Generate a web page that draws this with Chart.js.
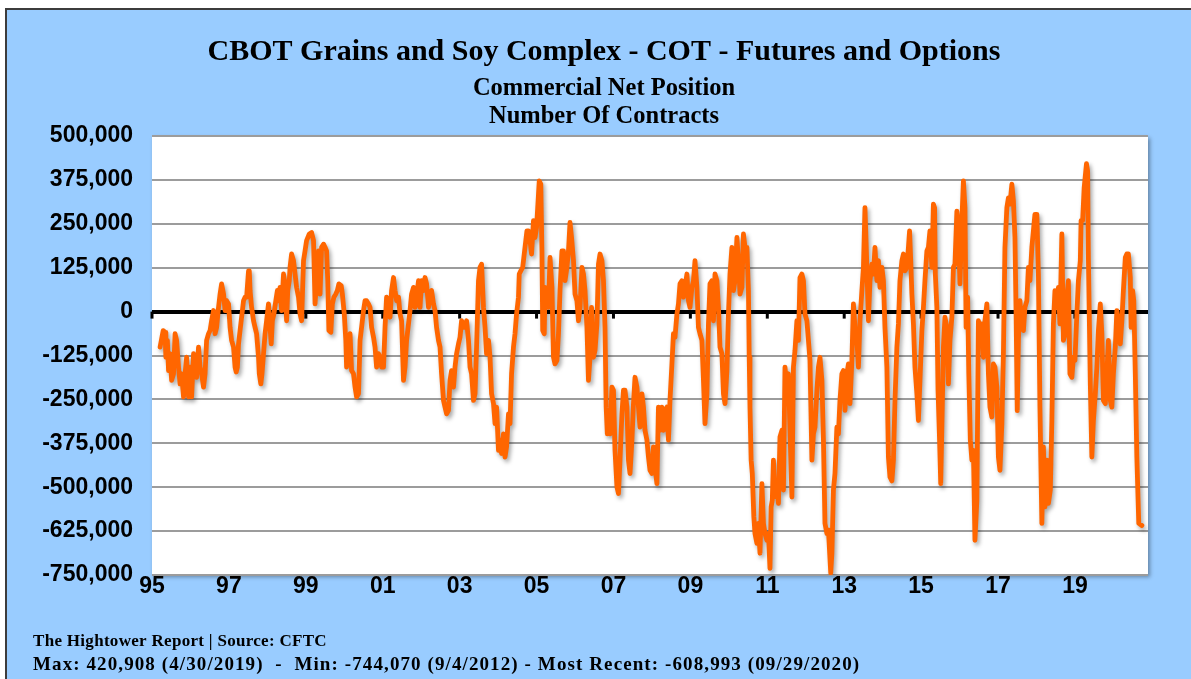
<!DOCTYPE html>
<html>
<head>
<meta charset="utf-8">
<title>CBOT Grains and Soy Complex - COT</title>
<script src="https://cdn.jsdelivr.net/npm/chart.js@4.4.1/dist/chart.umd.min.js"></script>
<style>
  html, body { margin: 0; padding: 0; background: #fff; overflow: hidden; }
  #frame {
    position: absolute; left: 5px; top: 8px;
    width: 1184px; height: 669px;
    background: #99ccff;
    border-top: 2px solid #3c3c3c;
    border-left: 2px solid #3c3c3c;
  }
  canvas { display: block; }
</style>
</head>
<body>
<div id="frame"><canvas id="cotChart" width="1184" height="669"></canvas></div>
<script>
// Commercial net position, thousands of contracts
const yrs1995 = [
  1995.21,1995.29,1995.34,1995.36,1995.40,1995.43,1995.47,1995.51,1995.56,1995.60,
  1995.64,1995.69,1995.73,1995.77,1995.82,1995.86,1995.90,1995.95,1995.99,1996.03,
  1996.08,1996.12,1996.16,1996.21,1996.25,1996.29,1996.34,1996.38,1996.42,1996.47,
  1996.51,1996.55,1996.60,1996.64,1996.68,1996.73,1996.77,1996.81,1996.86,1996.90,
  1996.94,1996.99,1997.03,1997.07,1997.12,1997.16,1997.19,1997.22,1997.25,1997.29,
  1997.33,1997.38,1997.42,1997.46,1997.51,1997.53,1997.55,1997.59,1997.64,1997.68,
  1997.72,1997.77,1997.79,1997.83,1997.86,1997.90,1997.94,1997.98,1998.03,1998.07,
  1998.10,1998.13,1998.17,1998.22,1998.26,1998.29,1998.33,1998.37,1998.42,1998.46,
  1998.50,1998.53,1998.57,1998.59,1998.63,1998.68,1998.72,1998.76,1998.81,1998.85,
  1998.89,1998.94,1998.98,1999.02,1999.09,1999.15,1999.20,1999.24
];
const net1995 = [
  -101,-54,-59,-130,-82,-168,-120,-196,-177,-63,
  -82,-158,-206,-177,-243,-177,-130,-243,-158,-243,
  -120,-177,-187,-101,-158,-177,-215,-177,-82,-63,
  -54,-26,3,-63,-45,12,50,79,50,3,
  31,22,-45,-82,-101,-158,-172,-158,-92,-54,
  -16,31,41,41,116,116,60,12,-26,-45,
  -63,-130,-177,-206,-177,-120,-63,-26,22,-45,
  -92,-26,-7,31,60,31,69,3,107,79,
  -26,60,88,126,164,145,107,69,41,-7,
  -26,145,173,202,221,225,202,22
];

const yrs1999 = [
  1999.28,1999.33,1999.37,1999.41,1999.46,1999.50,1999.54,1999.57,1999.60,1999.65,
  1999.69,1999.73,1999.78,1999.82,1999.86,1999.92,1999.95,2000.00,2000.04,2000.06,
  2000.11,2000.15,2000.19,2000.24,2000.28,2000.32,2000.37,2000.41,2000.45,2000.50,
  2000.54,2000.58,2000.63,2000.67,2000.71,2000.76,2000.80,2000.84,2000.89,2000.93,
  2000.97,2001.02,2001.06,2001.10,2001.15,2001.19,2001.23,2001.28,2001.32,2001.36,
  2001.41,2001.45,2001.49,2001.54,2001.58,2001.62,2001.67,2001.71,2001.75,2001.80,
  2001.84,2001.88,2001.93,2001.97,2002.01,2002.06,2002.10,2002.14,2002.19,2002.23,
  2002.27,2002.32,2002.36,2002.40,2002.45,2002.49,2002.53,2002.58,2002.62,2002.66,
  2002.71,2002.75,2002.79,2002.84,2002.88,2002.92,2002.97,2003.01,2003.05,2003.10,
  2003.14,2003.18,2003.23,2003.27,2003.31,2003.36,2003.40,2003.44,2003.49,2003.53
];
const net1999 = [
  88,173,50,183,192,183,173,88,-54,-59,
  22,41,50,60,79,74,50,-7,-82,-158,
  -101,-63,-168,-177,-215,-243,-234,-82,-45,3,
  31,31,22,12,-45,-73,-101,-158,-120,-130,
  -158,-158,-45,41,31,-16,60,97,60,31,
  41,-7,-26,-196,-158,-82,-35,3,50,69,
  12,41,88,12,88,60,97,79,12,50,
  60,22,3,-45,-82,-101,-177,-253,-272,-291,
  -281,-196,-168,-215,-158,-120,-92,-73,-26,-45,
  -45,-26,-82,-158,-177,-253,-234,-101,88,126
];

const yrs2003 = [
  2003.57,2003.62,2003.66,2003.70,2003.75,2003.79,2003.83,2003.88,2003.92,2003.96,
  2004.01,2004.05,2004.09,2004.14,2004.18,2004.22,2004.27,2004.31,2004.35,2004.40,
  2004.44,2004.48,2004.53,2004.55,2004.59,2004.64,2004.70,2004.75,2004.79,2004.83,
  2004.87,2004.92,2004.96,2005.00,2005.05,2005.07,2005.11,2005.14,2005.16,2005.20,
  2005.22,2005.27,2005.31,2005.35,2005.40,2005.44,2005.48,2005.53,2005.57,2005.61,
  2005.66,2005.70,2005.74,2005.79,2005.83,2005.87,2005.91,2005.96,2006.00,2006.05,
  2006.09,2006.13,2006.18,2006.22,2006.26,2006.31,2006.35,2006.39,2006.43,2006.48,
  2006.52,2006.57,2006.61,2006.65,2006.70,2006.74,2006.78,2006.81,2006.84,2006.88,
  2006.91,2006.96,2007.00,2007.04,2007.09,2007.13,2007.17,2007.22,2007.26,2007.30,
  2007.35,2007.39,2007.43,2007.48,2007.52,2007.56,2007.61,2007.65,2007.69,2007.74,
  2007.78,2007.82,2007.87,2007.91,2007.95
];
const net2003 = [
  135,12,-45,-120,-82,-130,-234,-262,-319,-272,
  -395,-366,-404,-348,-414,-385,-291,-319,-177,-101,
  -63,-7,41,107,116,126,183,230,230,202,
  164,259,211,240,334,372,363,173,-54,-63,
  69,41,12,154,69,-130,-149,-139,-63,60,
  173,173,88,126,173,254,211,145,50,31,
  -26,12,126,107,60,-45,-196,-130,12,-130,
  -111,-35,135,164,145,88,-45,-272,-348,-300,
  -348,-215,-224,-395,-499,-518,-423,-291,-224,-224,
  -272,-423,-461,-366,-262,-187,-215,-272,-329,-234,
  -272,-338,-366,-414,-452
];

const yrs2008 = [
  2008.00,2008.04,2008.08,2008.13,2008.17,2008.21,2008.26,2008.30,2008.34,2008.39,
  2008.43,2008.47,2008.52,2008.56,2008.60,2008.65,2008.69,2008.73,2008.78,2008.82,
  2008.86,2008.91,2008.95,2008.99,2009.04,2009.08,2009.12,2009.17,2009.21,2009.25,
  2009.30,2009.34,2009.38,2009.43,2009.47,2009.51,2009.56,2009.60,2009.64,2009.69,
  2009.73,2009.77,2009.82,2009.86,2009.90,2009.95,2009.99,2010.03,2010.08,2010.12,
  2010.16,2010.21,2010.25,2010.29,2010.34,2010.38,2010.42,2010.47,2010.51,2010.53,
  2010.55,2010.58,2010.61,2010.65,2010.68,2010.73,2010.77,2010.81,2010.86,2010.90,
  2010.94,2010.99,2011.03,2011.07,2011.10,2011.13,2011.16,2011.20,2011.25,2011.29,
  2011.33,2011.38,2011.42,2011.46,2011.51,2011.55,2011.59,2011.64,2011.68,2011.72,
  2011.77,2011.81,2011.85,2011.90,2011.94,2011.98,2012.03,2012.07,2012.11,2012.16,
  2012.20,2012.24
];
const net2008 = [
  -461,-385,-442,-490,-272,-338,-272,-338,-281,-272,
  -366,-253,-149,-63,-73,-7,22,79,88,41,
  69,107,31,12,69,88,145,69,-45,-63,
  -82,-196,-319,-234,-35,79,88,-26,107,88,
  12,-101,-120,-234,-262,-168,-7,107,183,60,
  88,211,145,50,69,221,183,183,60,-130,
  -272,-423,-461,-584,-632,-660,-603,-688,-490,-603,
  -632,-651,-632,-731,-556,-537,-423,-527,-499,-546,
  -357,-338,-508,-158,-215,-177,-338,-528,-158,-111,
  -26,-82,97,107,88,-7,-26,-82,-139,-423,
  -348,-329
];

const yrs2012 = [
  2012.29,2012.33,2012.37,2012.42,2012.46,2012.50,2012.55,2012.59,2012.65,2012.68,
  2012.72,2012.76,2012.81,2012.85,2012.89,2012.94,2012.98,2013.02,2013.07,2013.11,
  2013.15,2013.20,2013.24,2013.28,2013.33,2013.37,2013.41,2013.46,2013.50,2013.54,
  2013.59,2013.63,2013.67,2013.72,2013.76,2013.80,2013.85,2013.89,2013.93,2013.98,
  2014.02,2014.06,2014.11,2014.15,2014.19,2014.24,2014.28,2014.32,2014.37,2014.41,
  2014.45,2014.50,2014.54,2014.58,2014.63,2014.67,2014.70,2014.73,2014.76,2014.80,
  2014.84,2014.89,2014.93,2014.97,2015.02,2015.06,2015.10,2015.15,2015.19,2015.23,
  2015.28,2015.32,2015.35,2015.37,2015.41,2015.44,2015.48,2015.51,2015.55,2015.58,
  2015.62,2015.67,2015.71,2015.75,2015.80,2015.84,2015.88,2015.93,2015.97,2016.01,
  2016.06,2016.10,2016.14,2016.17,2016.21,2016.24,2016.28,2016.32,2016.36,2016.40,
  2016.45,2016.49,2016.53
];
const net2012 = [
  -224,-158,-130,-196,-366,-603,-632,-622,-744,-688,
  -508,-461,-329,-348,-253,-177,-168,-281,-177,-149,
  -262,-139,22,-45,-82,-158,-26,60,126,296,
  126,-26,88,135,107,183,88,145,69,126,
  88,-45,-158,-414,-471,-482,-423,-253,-101,-35,
  88,145,164,116,126,183,230,145,50,-35,
  -158,-234,-310,-196,-54,12,88,173,183,230,
  126,306,296,107,12,-224,-366,-490,-272,-101,
  -16,-45,-206,-82,-16,126,135,286,240,79,
  259,372,296,-45,41,-177,-366,-423,-395,-651,
  -537,-26,-45
];

const yrs2016 = [
  2016.58,2016.62,2016.66,2016.71,2016.75,2016.79,2016.84,2016.88,2016.92,2016.97,
  2017.01,2017.05,2017.10,2017.14,2017.18,2017.23,2017.27,2017.31,2017.36,2017.40,
  2017.44,2017.47,2017.50,2017.53,2017.57,2017.62,2017.66,2017.70,2017.75,2017.79,
  2017.83,2017.88,2017.92,2017.96,2018.01,2018.05,2018.09,2018.14,2018.18,2018.22,
  2018.27,2018.31,2018.36,2018.40,2018.44,2018.48,2018.53,2018.57,2018.61,2018.66,
  2018.70,2018.75,2018.79,2018.83,2018.87,2018.92,2018.96,2019.00,2019.05,2019.09,
  2019.14,2019.16,2019.20,2019.24,2019.30,2019.33,2019.35,2019.40,2019.44,2019.48,
  2019.53,2019.57,2019.61,2019.66,2019.70,2019.74,2019.79,2019.83,2019.87,2019.92,
  2019.96,2020.00,2020.05,2020.09,2020.13,2020.18,2020.22,2020.26,2020.31,2020.35,
  2020.39,2020.44,2020.46,2020.50,2020.53,2020.57,2020.61,2020.66,2020.74
];
const net2016 = [
  -35,-130,-26,22,-177,-272,-300,-149,-158,-215,
  -414,-452,-319,-120,183,296,324,306,363,315,
  211,-7,-282,-82,31,-45,-54,12,31,126,
  88,183,230,277,277,107,-272,-603,-385,-556,
  -423,-546,-508,-310,-35,60,12,69,-35,221,
  -82,-63,41,88,-177,-187,-130,-139,-7,88,
  145,259,259,353,421,400,154,-206,-414,-310,
  -234,-158,-54,22,-63,-253,-262,-177,-82,-253,
  -272,-177,-101,3,-35,-92,-26,60,154,164,
  164,97,-45,60,31,-177,-414,-603,-609
];

const tickYears = [1995, 1997, 1999, 2001, 2003, 2005, 2007, 2009, 2011, 2013, 2015, 2017, 2019];
const tickLabels = ['95', '97', '99', '01', '03', '05', '07', '09', '11', '13', '15', '17', '19'];

const titleText = 'CBOT Grains and Soy Complex - COT - Futures and Options';
const subtitleLines = ['Commercial Net Position', 'Number Of Contracts'];
const footerLines = [
  'The Hightower Report | Source: CFTC',
  'Max: 420,908 (4/30/2019)  -  Min: -744,070 (9/4/2012) - Most Recent: -608,993 (09/29/2020)'
];

const weekYears = [].concat(yrs1995, yrs1999, yrs2003, yrs2008, yrs2012, yrs2016);
const netK = [].concat(net1995, net1999, net2003, net2008, net2012, net2016);
const points = weekYears.map((t, i) => ({ x: t, y: netK[i] }));

const tickFont = { family: '"Liberation Sans", Arial, sans-serif', size: 23, weight: 'bold' };
const serif = '"Liberation Serif", "Times New Roman", serif';

// white plot area, zero-line ticks, line shadow and the text around the chart
const cotDecor = {
  id: 'cotDecor',
  beforeDraw(chart) {
    const { ctx, chartArea: a } = chart;
    ctx.save();
    ctx.shadowColor = 'rgba(0,0,0,0.35)';
    ctx.shadowBlur = 4;
    ctx.shadowOffsetX = 2;
    ctx.shadowOffsetY = 2;
    ctx.fillStyle = '#ffffff';
    ctx.fillRect(a.left, a.top, a.right - a.left, a.bottom - a.top);
    ctx.restore();
  },
  beforeDatasetsDraw(chart) {
    const { ctx, scales: { x, y } } = chart;
    const y0 = y.getPixelForValue(0);
    ctx.save();
    ctx.strokeStyle = '#000';
    ctx.lineWidth = 3;
    tickYears.forEach(t => {
      const px = x.getPixelForValue(t);
      ctx.beginPath();
      ctx.moveTo(px, y0);
      ctx.lineTo(px, y0 + 7);
      ctx.stroke();
    });
    ctx.restore();
  },
  beforeDatasetDraw(chart) {
    const ctx = chart.ctx;
    ctx.save();
    ctx.shadowColor = 'rgba(0,0,0,0.35)';
    ctx.shadowBlur = 4;
    ctx.shadowOffsetX = 2;
    ctx.shadowOffsetY = 3;
  },
  afterDatasetDraw(chart) {
    chart.ctx.restore();
  },
  afterDraw(chart) {
    const ctx = chart.ctx;
    ctx.save();
    ctx.fillStyle = '#000';
    ctx.textAlign = 'center';
    ctx.textBaseline = 'alphabetic';
    ctx.font = 'bold 30px ' + serif;
    ctx.fillText(titleText, 597, 50);
    ctx.font = 'bold 24.5px ' + serif;
    subtitleLines.forEach((s, i) => ctx.fillText(s, 597, 85 + i * 28));
    ctx.textAlign = 'left';
    ctx.font = 'bold 17px ' + serif;
    ctx.letterSpacing = '0.3px';
    ctx.fillText(footerLines[0], 26, 636);
    ctx.font = 'bold 19px ' + serif;
    ctx.letterSpacing = '1.1px';
    ctx.fillText(footerLines[1], 26, 660);
    ctx.restore();
  }
};

const ctx = document.getElementById('cotChart').getContext('2d');
const chart = new Chart(ctx, {
  type: 'line',
  data: {
    datasets: [{
      label: 'Commercial Net Position',
      data: points,
      borderColor: '#ff6600',
      borderWidth: 4.8,
      borderJoinStyle: 'round',
      borderCapStyle: 'round',
      pointRadius: 0,
      tension: 0,
      fill: false
    }]
  },
  options: {
    responsive: false,
    animation: false,
    layout: { padding: { left: 0, right: 43, top: 126, bottom: 0 } },
    plugins: {
      legend: { display: false },
      tooltip: { enabled: false }
    },
    scales: {
      x: {
        type: 'linear',
        min: 1995,
        max: 2020.9,
        afterBuildTicks: scale => {
          scale.ticks = tickYears.map(v => ({ value: v }));
        },
        afterFit: scale => {
          scale.height = 104;
          scale.paddingLeft = 0;
          scale.paddingRight = 0;
        },
        grid: { display: false, drawTicks: false },
        border: { display: false },
        ticks: {
          color: '#000',
          font: tickFont,
          padding: -2,
          maxRotation: 0,
          autoSkip: false,
          callback: (value, index) => tickLabels[index]
        }
      },
      y: {
        min: -750,
        max: 500,
        afterFit: scale => {
          scale.width = 145;
          scale.paddingTop = 0;
          scale.paddingBottom = 0;
        },
        grid: {
          drawTicks: false,
          color: c => (c.tick && c.tick.value === 0 ? '#000000' : '#9c9c9c'),
          lineWidth: c => (c.tick && c.tick.value === 0 ? 4 : 2)
        },
        border: { display: false },
        ticks: {
          stepSize: 125,
          color: '#000',
          font: tickFont,
          padding: 19,
          callback: value => (value * 1000).toLocaleString('en-US')
        }
      }
    }
  },
  plugins: [cotDecor]
});
</script>
</body>
</html>
